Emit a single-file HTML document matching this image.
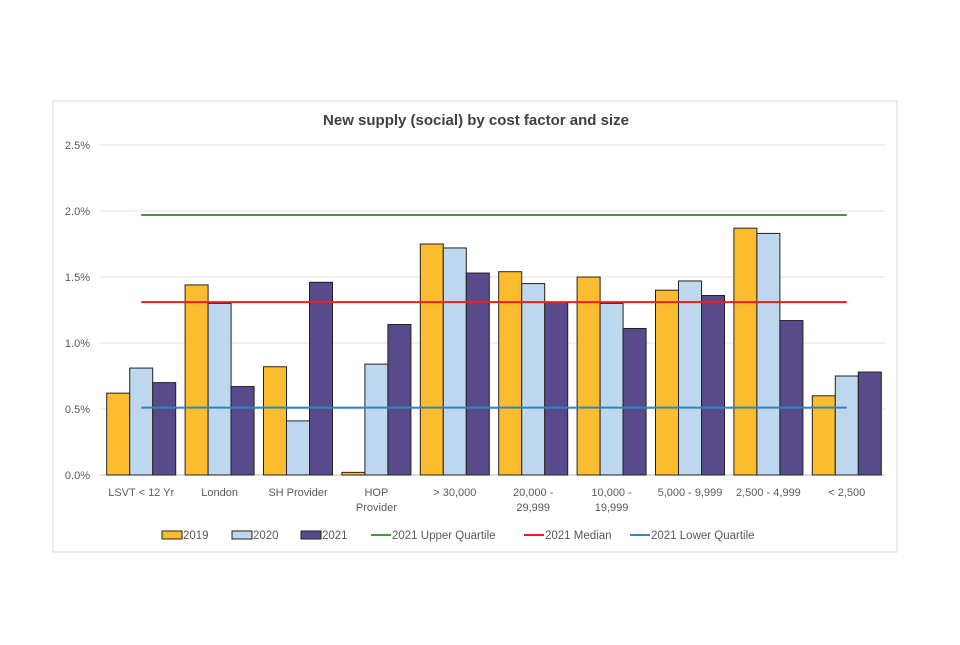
<!DOCTYPE html>
<html><head><meta charset="utf-8"><style>
body{margin:0;background:#fff;}
svg text{font-family:"Liberation Sans",sans-serif;}
</style></head><body>
<svg id="c" width="960" height="640" xmlns="http://www.w3.org/2000/svg">
<rect x="53" y="101" width="844" height="451" fill="#fff" stroke="#d9d9d9"/>
<text x="476" y="125" text-anchor="middle" font-size="15" font-weight="bold" fill="#404040">New supply (social) by cost factor and size</text>
<g id="grid"></g><g id="bars"></g><g id="lines"></g><g id="xl"></g>
<g id="legend"></g>
</svg>
<script>
const categories=[["LSVT < 12 Yr"],["London"],["SH Provider"],["HOP","Provider"],["> 30,000"],["20,000 -","29,999"],["10,000 -","19,999"],["5,000 - 9,999"],["2,500 - 4,999"],["< 2,500"]];
const s2019=[0.62,1.44,0.82,0.02,1.75,1.54,1.50,1.40,1.87,0.60];
const s2020=[0.81,1.30,0.41,0.84,1.72,1.45,1.30,1.47,1.83,0.75];
const s2021=[0.70,0.67,1.46,1.14,1.53,1.31,1.11,1.36,1.17,0.78];
const yTicks=[0,0.5,1.0,1.5,2.0,2.5];
const upperQ=1.97, median=1.31, lowerQ=0.51;
const NS="http://www.w3.org/2000/svg";
const x0=102,x1=886,gx0=100,yb=475,yt=145,ymax=2.5;
const slot=(x1-x0)/categories.length;
const y=v=>yb-(v/ymax)*(yb-yt);
const cx=i=>x0+slot*(i+0.5);
function mk(p,t,a){const e=document.createElementNS(NS,t);for(const k in a)e.setAttribute(k,a[k]);document.getElementById(p).appendChild(e);return e;}
yTicks.forEach(v=>{
 const l=mk('grid','line',{x1:gx0,x2:885,y1:y(v),y2:y(v),stroke:v===0?'#bfbfbf':'#e0e0e0'});
 
 
 const t=mk('grid','text',{x:90,y:y(v)+4,'text-anchor':'end','font-size':11,fill:'#595959'});
 t.textContent=v.toFixed(1)+'%';
 
 
});
const series=[[s2019,'#fbbd2e','2019'],[s2020,'#bdd7ee','2020'],[s2021,'#594a8c','2021']];
const bw=23;
categories.forEach((c,i)=>{
 series.forEach((s,j)=>{
  const bx=cx(i)-1.5*bw+j*bw;
  const r=mk('bars','rect',{x:bx,y:y(s[0][i]),width:bw,height:yb-y(s[0][i]),fill:s[1],stroke:'#222','stroke-width':1});
  
  
 });
 c.forEach((ln,k)=>{
  const t=mk('xl','text',{x:cx(i),y:496+k*15,'text-anchor':'middle','font-size':11,fill:'#595959'});
  t.textContent=ln;
  
  
 });
});
[[upperQ,'#3f9a3a','upper-quartile-line'],[median,'#e42320','median-line'],[lowerQ,'#2e86c1','lower-quartile-line']].forEach(d=>{
 const l=mk('lines','line',{x1:cx(0),x2:cx(categories.length-1),y1:y(d[0]),y2:y(d[0]),stroke:d[1],'stroke-width':2});
 
 
});
const leg=[['box','#fbbd2e','2019',162],['box','#bdd7ee','2020',232],['box','#594a8c','2021',301],['line','#3f9a3a','2021 Upper Quartile',371],['line','#e42320','2021 Median',524],['line','#2e86c1','2021 Lower Quartile',630]];
leg.forEach(d=>{
 if(d[0]==='box'){const r=mk('legend','rect',{x:d[3],y:531,width:20,height:8,fill:d[1],stroke:'#222'});
  }
 else{const l=mk('legend','line',{x1:d[3],x2:d[3]+20,y1:535,y2:535,stroke:d[1],'stroke-width':2});
  }
 const t=mk('legend','text',{x:d[3]+21,y:539,'font-size':11.5,fill:'#595959'});
 t.textContent=d[2];
 
 
});
</script>
</body></html>
